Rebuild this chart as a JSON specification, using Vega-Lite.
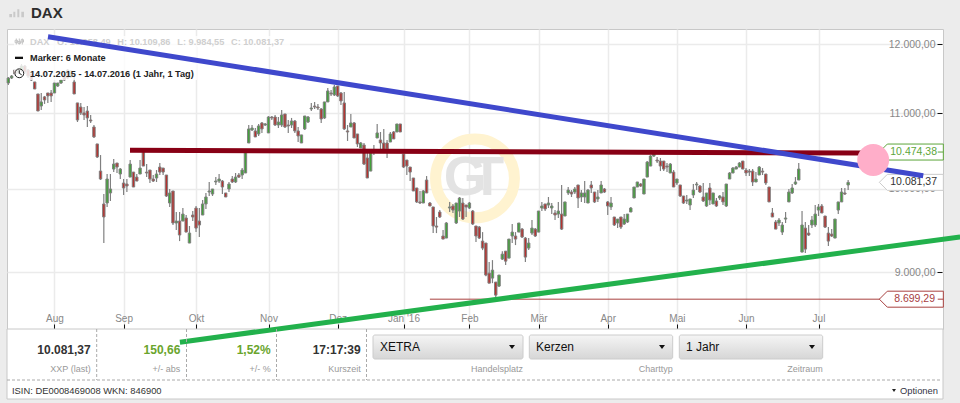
{
"$schema":"https://vega.github.io/schema/vega-lite/v6.json",
"width":936,"height":300,"autosize":"none",
"padding":{"left":7,"top":29,"right":17,"bottom":74},
"background":"#ececec",
"view":{"fill":"white","stroke":"#c8c8c8"},
"config":{"font":"Liberation Sans"},
"datasets":{"one":[{}],
"candles":[
{"t":0,"o":11428,"h":11514,"l":11400,"c":11500},{"t":1,"o":11500,"h":11543,"l":11485,"c":11529},{"t":2,"o":11617,"h":11632,"l":11529,"c":11559},{"t":3,"o":11588,"h":11646,"l":11559,"c":11617},
{"t":4,"o":11617,"h":11705,"l":11588,"c":11676},{"t":5,"o":11676,"h":11690,"l":11559,"c":11588},{"t":6,"o":11617,"h":11632,"l":11500,"c":11529},{"t":7,"o":11559,"h":11559,"l":11457,"c":11471},
{"t":8,"o":11443,"h":11443,"l":11342,"c":11342},{"t":9,"o":11271,"h":11271,"l":11031,"c":11031},{"t":10,"o":11101,"h":11285,"l":11045,"c":11158},{"t":11,"o":11229,"h":11243,"l":11130,"c":11186},
{"t":12,"o":11285,"h":11285,"l":11144,"c":11243},{"t":13,"o":11285,"h":11328,"l":11158,"c":11243},{"t":14,"o":11285,"h":11428,"l":11285,"c":11428},{"t":15,"o":11385,"h":11428,"l":11371,"c":11428},
{"t":16,"o":11428,"h":11485,"l":11414,"c":11471},{"t":17,"o":11559,"h":11588,"l":11457,"c":11471},{"t":18,"o":11617,"h":11632,"l":11485,"c":11500},{"t":19,"o":11529,"h":11617,"l":11500,"c":11588},
{"t":20,"o":11443,"h":11514,"l":11271,"c":11271},{"t":21,"o":11144,"h":11144,"l":10879,"c":10907},{"t":22,"o":11087,"h":11144,"l":10976,"c":11004},{"t":23,"o":11004,"h":11087,"l":10907,"c":10976},
{"t":24,"o":11031,"h":11101,"l":10811,"c":10935},{"t":25,"o":10907,"h":10976,"l":10866,"c":10893},{"t":26,"o":10811,"h":10838,"l":10662,"c":10676},{"t":27,"o":10582,"h":10582,"l":10396,"c":10409},
{"t":28,"o":10226,"h":10435,"l":10111,"c":10124},{"t":29,"o":9810,"h":9934,"l":9338,"c":9650},{"t":30,"o":9822,"h":10188,"l":9773,"c":10124},{"t":31,"o":9947,"h":10188,"l":9847,"c":9997},
{"t":32,"o":10252,"h":10382,"l":10213,"c":10317},{"t":33,"o":10330,"h":10330,"l":10201,"c":10278},{"t":34,"o":10188,"h":10265,"l":10124,"c":10252},{"t":35,"o":10073,"h":10124,"l":9922,"c":10010},
{"t":36,"o":10060,"h":10124,"l":9959,"c":10035},{"t":37,"o":10149,"h":10369,"l":10149,"c":10317},{"t":38,"o":10213,"h":10213,"l":10022,"c":10022},{"t":39,"o":10149,"h":10188,"l":10098,"c":10098},
{"t":40,"o":10188,"h":10369,"l":10188,"c":10265},{"t":41,"o":10501,"h":10501,"l":10291,"c":10291},{"t":42,"o":10213,"h":10317,"l":10149,"c":10201},{"t":43,"o":10239,"h":10239,"l":10073,"c":10124},
{"t":44,"o":10124,"h":10175,"l":10086,"c":10098},{"t":45,"o":10137,"h":10239,"l":10086,"c":10188},{"t":46,"o":10278,"h":10330,"l":10175,"c":10213},{"t":47,"o":10265,"h":10265,"l":10175,"c":10213},
{"t":48,"o":10175,"h":10175,"l":9897,"c":9909},{"t":49,"o":9822,"h":9997,"l":9773,"c":9947},{"t":50,"o":9972,"h":9972,"l":9553,"c":9577},{"t":51,"o":9577,"h":9711,"l":9492,"c":9601},
{"t":52,"o":9601,"h":9711,"l":9361,"c":9433},{"t":53,"o":9601,"h":9760,"l":9601,"c":9686},{"t":54,"o":9638,"h":9674,"l":9468,"c":9468},{"t":55,"o":9338,"h":9541,"l":9338,"c":9456},
{"t":56,"o":9674,"h":9723,"l":9601,"c":9650},{"t":57,"o":9760,"h":9785,"l":9468,"c":9516},{"t":58,"o":9601,"h":9760,"l":9409,"c":9553},{"t":59,"o":9674,"h":9859,"l":9674,"c":9810},
{"t":60,"o":9810,"h":9947,"l":9748,"c":9897},{"t":61,"o":9959,"h":10086,"l":9909,"c":9972},{"t":62,"o":9934,"h":9997,"l":9909,"c":9997},{"t":63,"o":10086,"h":10149,"l":10048,"c":10098},
{"t":64,"o":10098,"h":10188,"l":10073,"c":10124},{"t":65,"o":10098,"h":10111,"l":9934,"c":10022},{"t":66,"o":9947,"h":9947,"l":9897,"c":9897},{"t":67,"o":9997,"h":10086,"l":9959,"c":10060},
{"t":68,"o":10124,"h":10162,"l":10073,"c":10086},{"t":69,"o":10086,"h":10201,"l":10073,"c":10149},{"t":70,"o":10175,"h":10201,"l":10137,"c":10149},{"t":71,"o":10175,"h":10265,"l":10124,"c":10239},
{"t":72,"o":10201,"h":10501,"l":10201,"c":10475},{"t":73,"o":10595,"h":10838,"l":10595,"c":10784},{"t":74,"o":10770,"h":10838,"l":10757,"c":10797},{"t":75,"o":10757,"h":10797,"l":10676,"c":10676},
{"t":76,"o":10716,"h":10852,"l":10689,"c":10825},{"t":77,"o":10866,"h":10879,"l":10730,"c":10784},{"t":78,"o":10838,"h":10866,"l":10825,"c":10852},{"t":79,"o":10730,"h":10962,"l":10730,"c":10948},
{"t":80,"o":10948,"h":10962,"l":10907,"c":10935},{"t":81,"o":10948,"h":10976,"l":10825,"c":10838},{"t":82,"o":10838,"h":10948,"l":10797,"c":10879},{"t":83,"o":10838,"h":11045,"l":10811,"c":10976},
{"t":84,"o":10990,"h":10990,"l":10797,"c":10811},{"t":85,"o":10838,"h":10907,"l":10730,"c":10825},{"t":86,"o":10838,"h":10935,"l":10797,"c":10893},{"t":87,"o":10893,"h":10907,"l":10730,"c":10757},
{"t":88,"o":10757,"h":10811,"l":10608,"c":10689},{"t":89,"o":10595,"h":10703,"l":10595,"c":10703},{"t":90,"o":10784,"h":10962,"l":10770,"c":10962},{"t":91,"o":10879,"h":10962,"l":10866,"c":10948},
{"t":92,"o":11059,"h":11144,"l":11031,"c":11073},{"t":93,"o":11101,"h":11158,"l":11059,"c":11087},{"t":94,"o":11087,"h":11130,"l":11045,"c":11073},{"t":95,"o":11059,"h":11073,"l":10866,"c":10921},
{"t":96,"o":10935,"h":11158,"l":10921,"c":11158},{"t":97,"o":11158,"h":11357,"l":11158,"c":11314},{"t":98,"o":11285,"h":11328,"l":11243,"c":11271},{"t":99,"o":11257,"h":11400,"l":11243,"c":11371},
{"t":100,"o":11385,"h":11385,"l":11229,"c":11243},{"t":101,"o":11285,"h":11300,"l":11116,"c":11172},{"t":102,"o":11144,"h":11300,"l":10770,"c":10784},{"t":103,"o":10757,"h":10838,"l":10622,"c":10743},
{"t":104,"o":10811,"h":10990,"l":10811,"c":10866},{"t":105,"o":10866,"h":10879,"l":10662,"c":10662},{"t":106,"o":10716,"h":10716,"l":10541,"c":10582},{"t":107,"o":10528,"h":10608,"l":10528,"c":10595},
{"t":108,"o":10568,"h":10595,"l":10304,"c":10317},{"t":109,"o":10396,"h":10462,"l":10137,"c":10137},{"t":110,"o":10226,"h":10462,"l":10226,"c":10462},{"t":111,"o":10488,"h":10568,"l":10435,"c":10501},
{"t":112,"o":10662,"h":10852,"l":10662,"c":10730},{"t":113,"o":10635,"h":10743,"l":10501,"c":10595},{"t":114,"o":10595,"h":10784,"l":10501,"c":10501},{"t":115,"o":10595,"h":10635,"l":10396,"c":10515},
{"t":116,"o":10608,"h":10743,"l":10608,"c":10716},{"t":117,"o":10743,"h":10757,"l":10649,"c":10649},{"t":118,"o":10743,"h":10852,"l":10743,"c":10852},{"t":119,"o":10852,"h":10852,"l":10743,"c":10743},
{"t":120,"o":10448,"h":10448,"l":10265,"c":10278},{"t":121,"o":10369,"h":10369,"l":10175,"c":10291},{"t":122,"o":10278,"h":10278,"l":10098,"c":10213},{"t":123,"o":10137,"h":10137,"l":9972,"c":9972},
{"t":124,"o":10010,"h":10010,"l":9822,"c":9835},{"t":125,"o":9835,"h":9972,"l":9810,"c":9822},{"t":126,"o":9822,"h":9984,"l":9822,"c":9972},{"t":127,"o":10111,"h":10162,"l":9947,"c":9947},
{"t":128,"o":9822,"h":9835,"l":9785,"c":9785},{"t":129,"o":9773,"h":9773,"l":9456,"c":9541},{"t":130,"o":9541,"h":9650,"l":9456,"c":9528},{"t":131,"o":9711,"h":9735,"l":9638,"c":9650},
{"t":132,"o":9421,"h":9492,"l":9385,"c":9385},{"t":133,"o":9397,"h":9589,"l":9397,"c":9577},{"t":134,"o":9760,"h":9835,"l":9711,"c":9773},{"t":135,"o":9785,"h":9810,"l":9699,"c":9735},
{"t":136,"o":9577,"h":9822,"l":9565,"c":9822},{"t":137,"o":9723,"h":9897,"l":9650,"c":9884},{"t":138,"o":9822,"h":9884,"l":9613,"c":9625},{"t":139,"o":9797,"h":9797,"l":9650,"c":9773},
{"t":140,"o":9760,"h":9835,"l":9748,"c":9822},{"t":141,"o":9723,"h":9735,"l":9553,"c":9565},{"t":142,"o":9541,"h":9541,"l":9349,"c":9421},{"t":143,"o":9528,"h":9541,"l":9385,"c":9397},
{"t":144,"o":9361,"h":9468,"l":9255,"c":9279},{"t":145,"o":9338,"h":9338,"l":8956,"c":8968},{"t":146,"o":8990,"h":9116,"l":8877,"c":8877},{"t":147,"o":8934,"h":9139,"l":8877,"c":9024},
{"t":148,"o":8889,"h":8889,"l":8722,"c":8744},{"t":149,"o":8844,"h":8968,"l":8833,"c":8968},{"t":150,"o":9151,"h":9243,"l":9139,"c":9208},{"t":151,"o":9243,"h":9243,"l":9082,"c":9127},
{"t":152,"o":9162,"h":9385,"l":9162,"c":9385},{"t":153,"o":9421,"h":9565,"l":9338,"c":9468},{"t":154,"o":9421,"h":9468,"l":9314,"c":9385},{"t":155,"o":9468,"h":9577,"l":9468,"c":9577},
{"t":156,"o":9504,"h":9516,"l":9397,"c":9409},{"t":157,"o":9397,"h":9409,"l":9116,"c":9174},{"t":158,"o":9279,"h":9397,"l":9255,"c":9338},{"t":159,"o":9456,"h":9613,"l":9433,"c":9516},
{"t":160,"o":9504,"h":9516,"l":9409,"c":9421},{"t":161,"o":9468,"h":9723,"l":9468,"c":9723},{"t":162,"o":9760,"h":9835,"l":9723,"c":9785},{"t":163,"o":9810,"h":9810,"l":9723,"c":9748},
{"t":164,"o":9797,"h":9897,"l":9760,"c":9822},{"t":165,"o":9760,"h":9822,"l":9686,"c":9785},{"t":166,"o":9699,"h":9735,"l":9613,"c":9674},{"t":167,"o":9686,"h":9835,"l":9638,"c":9723},
{"t":168,"o":9686,"h":10048,"l":9492,"c":9504},{"t":169,"o":9662,"h":9835,"l":9662,"c":9835},{"t":170,"o":9947,"h":10022,"l":9922,"c":9984},{"t":171,"o":9959,"h":9984,"l":9897,"c":9934},
{"t":172,"o":9959,"h":10022,"l":9934,"c":9997},{"t":173,"o":10048,"h":10048,"l":9760,"c":9884},{"t":174,"o":9897,"h":9984,"l":9835,"c":9947},{"t":175,"o":9897,"h":10098,"l":9822,"c":9947},
{"t":176,"o":9822,"h":9997,"l":9822,"c":9984},{"t":177,"o":10048,"h":10098,"l":9947,"c":10010},{"t":178,"o":9959,"h":9959,"l":9822,"c":9835},{"t":179,"o":9872,"h":9984,"l":9835,"c":9897},
{"t":180,"o":9947,"h":10098,"l":9947,"c":10048},{"t":181,"o":9997,"h":10010,"l":9947,"c":9959},{"t":182,"o":9835,"h":9847,"l":9674,"c":9785},{"t":183,"o":9773,"h":9897,"l":9735,"c":9822},
{"t":184,"o":9650,"h":9650,"l":9541,"c":9553},{"t":185,"o":9577,"h":9625,"l":9516,"c":9625},{"t":186,"o":9650,"h":9650,"l":9504,"c":9528},{"t":187,"o":9565,"h":9686,"l":9553,"c":9625},
{"t":188,"o":9589,"h":9686,"l":9577,"c":9686},{"t":189,"o":9711,"h":9773,"l":9711,"c":9760},{"t":190,"o":9884,"h":10022,"l":9884,"c":10022},{"t":191,"o":10022,"h":10086,"l":10022,"c":10086},
{"t":192,"o":10060,"h":10073,"l":10022,"c":10035},{"t":193,"o":9934,"h":10124,"l":9934,"c":10124},{"t":194,"o":10149,"h":10356,"l":10149,"c":10343},{"t":195,"o":10291,"h":10435,"l":10291,"c":10422},
{"t":196,"o":10422,"h":10462,"l":10409,"c":10448},{"t":197,"o":10369,"h":10409,"l":10330,"c":10356},{"t":198,"o":10356,"h":10396,"l":10226,"c":10291},{"t":199,"o":10356,"h":10356,"l":10226,"c":10252},
{"t":200,"o":10291,"h":10330,"l":10213,"c":10278},{"t":201,"o":10201,"h":10330,"l":10201,"c":10317},{"t":202,"o":10213,"h":10239,"l":10022,"c":10022},{"t":203,"o":10073,"h":10124,"l":10048,"c":10124},
{"t":204,"o":10048,"h":10048,"l":9897,"c":9909},{"t":205,"o":9909,"h":9909,"l":9810,"c":9822},{"t":206,"o":9847,"h":9922,"l":9810,"c":9859},{"t":207,"o":9797,"h":9872,"l":9735,"c":9872},
{"t":208,"o":9922,"h":10060,"l":9884,"c":9984},{"t":209,"o":10048,"h":10086,"l":9984,"c":10060},{"t":210,"o":10035,"h":10048,"l":9947,"c":9959},{"t":211,"o":9897,"h":10073,"l":9835,"c":9847},
{"t":212,"o":9785,"h":9947,"l":9773,"c":9947},{"t":213,"o":10010,"h":10073,"l":9797,"c":9859},{"t":214,"o":9810,"h":9947,"l":9810,"c":9947},{"t":215,"o":9847,"h":9884,"l":9773,"c":9785},
{"t":216,"o":9884,"h":9922,"l":9859,"c":9909},{"t":217,"o":9897,"h":9959,"l":9797,"c":9835},{"t":218,"o":9785,"h":10060,"l":9773,"c":10060},{"t":219,"o":10124,"h":10213,"l":10124,"c":10201},
{"t":220,"o":10201,"h":10278,"l":10201,"c":10265},{"t":221,"o":10252,"h":10291,"l":10252,"c":10278},{"t":222,"o":10278,"h":10343,"l":10278,"c":10330},{"t":223,"o":10356,"h":10356,"l":10252,"c":10252},
{"t":224,"o":10239,"h":10265,"l":10162,"c":10201},{"t":225,"o":10226,"h":10252,"l":10162,"c":10213},{"t":226,"o":10226,"h":10252,"l":10035,"c":10086},{"t":227,"o":10086,"h":10213,"l":10086,"c":10124},
{"t":228,"o":10175,"h":10291,"l":10175,"c":10278},{"t":229,"o":10226,"h":10265,"l":10175,"c":10213},{"t":230,"o":10188,"h":10188,"l":10048,"c":10073},{"t":231,"o":10022,"h":10022,"l":9835,"c":9835},
{"t":232,"o":9699,"h":9760,"l":9650,"c":9650},{"t":233,"o":9589,"h":9613,"l":9504,"c":9504},{"t":234,"o":9577,"h":9638,"l":9541,"c":9613},{"t":235,"o":9468,"h":9589,"l":9433,"c":9553},
{"t":236,"o":9625,"h":9711,"l":9577,"c":9638},{"t":237,"o":9835,"h":9997,"l":9835,"c":9959},{"t":238,"o":9947,"h":10060,"l":9934,"c":10010},{"t":239,"o":10060,"h":10149,"l":10048,"c":10086},
{"t":240,"o":10111,"h":10330,"l":10111,"c":10252},{"t":241,"o":9232,"h":9723,"l":9232,"c":9553},{"t":242,"o":9516,"h":9589,"l":9220,"c":9267},{"t":243,"o":9456,"h":9553,"l":9421,"c":9433},
{"t":244,"o":9553,"h":9662,"l":9516,"c":9613},{"t":245,"o":9553,"h":9797,"l":9528,"c":9686},{"t":246,"o":9735,"h":9810,"l":9662,"c":9773},{"t":247,"o":9785,"h":9810,"l":9699,"c":9699},
{"t":248,"o":9662,"h":9662,"l":9516,"c":9528},{"t":249,"o":9456,"h":9528,"l":9302,"c":9361},{"t":250,"o":9444,"h":9504,"l":9409,"c":9421},{"t":251,"o":9397,"h":9625,"l":9397,"c":9625},
{"t":252,"o":9735,"h":9835,"l":9686,"c":9835},{"t":253,"o":9835,"h":10010,"l":9835,"c":9959},{"t":254,"o":9947,"h":10010,"l":9922,"c":9934},{"t":255,"o":10048,"h":10111,"l":9984,"c":10081}
]},
"layer":[
{"data":{"name":"one"},"mark":{"type":"rect","x":0,"x2":936,"y":300,"y2":370,"fill":"white","stroke":"#c8c8c8"}},
{"data":{"name":"one"},"mark":{"type":"point","shape":"M-1.85,0.25H-1.17V1.08H-1.85Z M-0.85,-0.33H-0.35V1.08H-0.85Z M0.15,-0.93H0.65V1.08H0.15Z M1.15,-0.33H1.82V1.08H1.15Z","x":9.7,"y":-16,"size":64,"filled":true,"fill":"#c9c9c9","stroke":null,"opacity":1}},
{"data":{"name":"one"},"mark":{"type":"text","text":"DAX","x":24,"y":-16.5,"align":"left","baseline":"middle","fontSize":15,"fontWeight":"bold","fill":"#2d2d2d"}},
{"data":{"values":[{"t":141.7,"v":10132}]},"mark":{"type":"point","shape":"circle","size":6221,"filled":false,"stroke":"#fff3d0","strokeWidth":11,"opacity":1},
 "encoding":{
  "x":{"field":"t","type":"quantitative","title":null,"scale":{"domain":[-0.4,283.8],"nice":false,"zero":false,"padding":0},
   "axis":{"values":[14,35,57,79,100,120,140,161,182,203,224,246],"labelExpr":"{'14':'Aug','35':'Sep','57':'Okt','79':'Nov','100':'Dez','120':'Jan \\'16','140':'Feb','161':'Mär','182':'Apr','203':'Mai','224':'Jun','246':'Jul'}[datum.value]",
    "offset":-5,"domain":false,"grid":true,"gridColor":"#ebebeb","gridWidth":1.5,"tickColor":"#111","tickSize":5,"labelFontSize":10,"labelColor":"#888","labelPadding":-11,"labelBaseline":"middle","labelOverlap":false,"labelFlush":false}},
  "y":{"field":"v","type":"quantitative","title":null,"scale":{"type":"log","domain":[8378,12234],"nice":false,"zero":false},
   "axis":{"orient":"right","values":[9000,10000,11000,12000],"labelExpr":"replace(format(datum.value,',.0f'),',','.')+',00'",
    "offset":-6,"domain":false,"grid":true,"gridColor":"#ebebeb","gridWidth":1.5,"tickColor":"#111","tickSize":5,"labelFontSize":10.5,"labelColor":"#888","labelPadding":-7,"labelAlign":"right","labelOverlap":false,"labelFlush":false}}}},
{"data":{"values":[{"t":138.7,"v":10132,"mark":"G"},{"t":145.4,"v":10132,"mark":"T"}]},"mark":{"type":"text","fontWeight":"bold","fontSize":55,"fill":"#e3e3e3","baseline":"middle"},
 "encoding":{"x":{"field":"t","type":"quantitative","title":null},"y":{"field":"v","type":"quantitative","title":null},"text":{"field":"mark"}}},
{"data":{"name":"candles"},"mark":{"type":"rule","color":"#808080","strokeWidth":1.2},
 "encoding":{"x":{"field":"t","type":"quantitative","title":null},"y":{"field":"l","type":"quantitative","title":null},"y2":{"field":"h"}}},
{"data":{"name":"candles"},"mark":{"type":"bar","size":2.4,"stroke":"#808080","strokeWidth":1},
 "encoding":{"x":{"field":"t","type":"quantitative","title":null},"y":{"field":"o","type":"quantitative","title":null},"y2":{"field":"c"},
  "fill":{"condition":{"test":"datum.c >= datum.o","value":"#43a03a"},"value":"#b5322f"}}},
{"data":{"name":"one"},"mark":{"type":"rect","x":7,"x2":283,"y":7,"y2":18,"fill":"white","opacity":0.8}},
{"data":{"name":"one"},"mark":{"type":"rect","x":7,"x2":190,"y":18,"y2":51,"fill":"white","opacity":0.8}},
{"data":{"name":"one"},"mark":{"type":"point","shape":"M-1,-1V1 M-1,-0.4H-0.6V0.4H-1.4V-0.4Z M0,-1V1 M0,0H0.4V0.7H-0.4V0Z M1,-1V1 M1,-0.6H1.4V0.2H0.6V-0.6Z","x":12.3,"y":12.5,"size":36,"filled":false,"stroke":"#c4c4c4","strokeWidth":1,"opacity":1}},
{"data":{"name":"one"},"mark":{"type":"text","text":"DAX","x":23,"y":12.5,"align":"left","baseline":"middle","fontSize":9.2,"fontWeight":"bold","fill":"#cfcfcf"}},
{"data":{"name":"one"},"mark":{"type":"text","text":"O: 10.058,49","x":50,"y":12.5,"align":"left","baseline":"middle","fontSize":9.2,"fontWeight":"bold","fill":"#cfcfcf"}},
{"data":{"name":"one"},"mark":{"type":"text","text":"H: 10.109,86","x":110.3,"y":12.5,"align":"left","baseline":"middle","fontSize":9.2,"fontWeight":"bold","fill":"#cfcfcf"}},
{"data":{"name":"one"},"mark":{"type":"text","text":"L: 9.984,55","x":170.3,"y":12.5,"align":"left","baseline":"middle","fontSize":9.2,"fontWeight":"bold","fill":"#cfcfcf"}},
{"data":{"name":"one"},"mark":{"type":"text","text":"C: 10.081,37","x":224,"y":12.5,"align":"left","baseline":"middle","fontSize":9.2,"fontWeight":"bold","fill":"#cfcfcf"}},
{"data":{"name":"one"},"mark":{"type":"rect","x":8,"x2":16,"y":27.7,"y2":30,"fill":"#111"}},
{"data":{"name":"one"},"mark":{"type":"text","text":"Marker: 6 Monate","x":23,"y":28.7,"align":"left","baseline":"middle","fontSize":9.2,"fontWeight":"bold","fill":"#222"}},
{"data":{"name":"one"},"mark":{"type":"point","shape":"circle","x":12.3,"y":44.3,"size":78,"filled":false,"stroke":"#222","strokeWidth":1,"opacity":1}},
{"data":{"name":"one"},"mark":{"type":"point","shape":"M0,-1V0L0.8,0.5","x":12.3,"y":44.3,"size":36,"filled":false,"fill":"transparent","stroke":"#222","strokeWidth":1,"opacity":1}},
{"data":{"name":"one"},"mark":{"type":"text","text":"14.07.2015 - 14.07.2016 (1 Jahr, 1 Tag)","x":23,"y":44.7,"align":"left","baseline":"middle","fontSize":9.2,"fontWeight":"bold","fill":"#222"}},
{"data":{"values":[{"from":128,"to":264.7,"v":8699.29}]},"mark":{"type":"rule","color":"#a8403f","strokeWidth":1},
 "encoding":{"x":{"field":"from","type":"quantitative","title":null},"x2":{"field":"to"},"y":{"field":"v","type":"quantitative","title":null}}},
{"data":{"values":[{"t":266.9,"v":10474.38}]},"mark":{"type":"point","shape":"M-1,0L0,-1H7V1H0Z M6.3,0H7","size":256,"filled":false,"fill":"white","stroke":"#5da53a","strokeWidth":1,"opacity":1},
 "encoding":{"x":{"field":"t","type":"quantitative","title":null},"y":{"field":"v","type":"quantitative","title":null}}},
{"data":{"values":[{"t":266.9,"v":10081.37}]},"mark":{"type":"point","shape":"M-1,0L0,-1H7V1H0Z","size":256,"filled":false,"fill":"white","stroke":"#cccccc","strokeWidth":1,"opacity":1},
 "encoding":{"x":{"field":"t","type":"quantitative","title":null},"y":{"field":"v","type":"quantitative","title":null}}},
{"data":{"values":[{"t":266.9,"v":8699.29}]},"mark":{"type":"point","shape":"M-1,0L0,-1H7V1H0Z M6.3,0H7","size":256,"filled":false,"fill":"white","stroke":"#a8403f","strokeWidth":1,"opacity":1},
 "encoding":{"x":{"field":"t","type":"quantitative","title":null},"y":{"field":"v","type":"quantitative","title":null}}},
{"data":{"values":[{"v":10474.38,"label":"10.474,38"}]},"mark":{"type":"text","x":930,"align":"right","baseline":"middle","fontSize":10.5,"fill":"#5da53a"},
 "encoding":{"y":{"field":"v","type":"quantitative","title":null},"text":{"field":"label"}}},
{"data":{"values":[{"v":10081.37,"label":"10.081,37"}]},"mark":{"type":"text","x":930,"align":"right","baseline":"middle","fontSize":10.5,"fill":"#333"},
 "encoding":{"y":{"field":"v","type":"quantitative","title":null},"text":{"field":"label"}}},
{"data":{"values":[{"v":8699.29,"label":"8.699,29"}]},"mark":{"type":"text","x":928,"align":"right","baseline":"middle","fontSize":10.5,"fill":"#a8403f"},
 "encoding":{"y":{"field":"v","type":"quantitative","title":null},"text":{"field":"label"}}},
{"data":{"values":[{"t":36.95,"v":10497},{"t":259.2,"v":10461}]},"mark":{"type":"line","color":"#880015","strokeWidth":5},
 "encoding":{"x":{"field":"t","type":"quantitative","title":null},"y":{"field":"v","type":"quantitative","title":null}}},
{"data":{"values":[{"t":12.05,"v":12116},{"t":277.8,"v":10166}]},"mark":{"type":"line","color":"#3f48cc","strokeWidth":5},
 "encoding":{"x":{"field":"t","type":"quantitative","title":null},"y":{"field":"v","type":"quantitative","title":null}}},
{"data":{"values":[{"t":52.1,"v":8240},{"t":289,"v":9411}]},"mark":{"type":"line","color":"#22b14c","strokeWidth":5},
 "encoding":{"x":{"field":"t","type":"quantitative","title":null},"y":{"field":"v","type":"quantitative","title":null}}},
{"data":{"values":[{"t":262.6,"v":10370}]},"mark":{"type":"point","shape":"circle","size":1018,"filled":true,"fill":"#ffaec9","stroke":null,"opacity":1},
 "encoding":{"x":{"field":"t","type":"quantitative","title":null},"y":{"field":"v","type":"quantitative","title":null}}},
{"data":{"name":"one"},"mark":{"type":"rule","color":"#aaaaaa","strokeDash":[3,2],"strokeWidth":1},"encoding":{"x":{"value":0},"x2":{"value":934},"y":{"value":351}}},
{"data":{"name":"one"},"mark":{"type":"rule","color":"#aaaaaa","strokeDash":[3,2],"strokeWidth":1},"encoding":{"x":{"value":89.7},"y":{"value":300},"y2":{"value":351}}},
{"data":{"name":"one"},"mark":{"type":"rule","color":"#aaaaaa","strokeDash":[3,2],"strokeWidth":1},"encoding":{"x":{"value":179.5},"y":{"value":300},"y2":{"value":351}}},
{"data":{"name":"one"},"mark":{"type":"rule","color":"#aaaaaa","strokeDash":[3,2],"strokeWidth":1},"encoding":{"x":{"value":269.5},"y":{"value":300},"y2":{"value":351}}},
{"data":{"name":"one"},"mark":{"type":"rule","color":"#aaaaaa","strokeDash":[3,2],"strokeWidth":1},"encoding":{"x":{"value":359.5},"y":{"value":300},"y2":{"value":351}}},
{"data":{"name":"one"},"mark":{"type":"text","text":"10.081,37","x":83.7,"y":321,"align":"right","baseline":"middle","fontSize":12,"fontWeight":"bold","fill":"#333"}},
{"data":{"name":"one"},"mark":{"type":"text","text":"XXP (last)","x":83.7,"y":340,"align":"right","baseline":"middle","fontSize":9,"fill":"#999"}},
{"data":{"name":"one"},"mark":{"type":"text","text":"150,66","x":173.3,"y":321,"align":"right","baseline":"middle","fontSize":12,"fontWeight":"bold","fill":"#6aa52d"}},
{"data":{"name":"one"},"mark":{"type":"text","text":"+/- abs","x":173.3,"y":340,"align":"right","baseline":"middle","fontSize":9,"fill":"#999"}},
{"data":{"name":"one"},"mark":{"type":"text","text":"1,52%","x":263.7,"y":321,"align":"right","baseline":"middle","fontSize":12,"fontWeight":"bold","fill":"#6aa52d"}},
{"data":{"name":"one"},"mark":{"type":"text","text":"+/- %","x":263.7,"y":340,"align":"right","baseline":"middle","fontSize":9,"fill":"#999"}},
{"data":{"name":"one"},"mark":{"type":"text","text":"17:17:39","x":353.7,"y":321,"align":"right","baseline":"middle","fontSize":12,"fontWeight":"bold","fill":"#333"}},
{"data":{"name":"one"},"mark":{"type":"text","text":"Kurszeit","x":353.7,"y":340,"align":"right","baseline":"middle","fontSize":9,"fill":"#999"}},
{"data":{"name":"one"},"mark":{"type":"rect","x":366,"x2":516,"y":306,"y2":330,"cornerRadius":2,"stroke":"#cccccc","fill":{"gradient":"linear","x1":0,"y1":0,"x2":0,"y2":1,"stops":[{"offset":0,"color":"#f5f5f5"},{"offset":1,"color":"#d6d6d6"}]}}},
{"data":{"name":"one"},"mark":{"type":"rect","x":522.3,"x2":665.7,"y":306,"y2":330,"cornerRadius":2,"stroke":"#cccccc","fill":{"gradient":"linear","x1":0,"y1":0,"x2":0,"y2":1,"stops":[{"offset":0,"color":"#f5f5f5"},{"offset":1,"color":"#d6d6d6"}]}}},
{"data":{"name":"one"},"mark":{"type":"rect","x":672.3,"x2":815.7,"y":306,"y2":330,"cornerRadius":2,"stroke":"#cccccc","fill":{"gradient":"linear","x1":0,"y1":0,"x2":0,"y2":1,"stops":[{"offset":0,"color":"#f5f5f5"},{"offset":1,"color":"#d6d6d6"}]}}},
{"data":{"name":"one"},"mark":{"type":"text","text":"XETRA","x":373,"y":318,"align":"left","baseline":"middle","fontSize":12,"fill":"#111"}},
{"data":{"name":"one"},"mark":{"type":"text","text":"Kerzen","x":529,"y":318,"align":"left","baseline":"middle","fontSize":12,"fill":"#111"}},
{"data":{"name":"one"},"mark":{"type":"text","text":"1 Jahr","x":679,"y":318,"align":"left","baseline":"middle","fontSize":12,"fill":"#111"}},
{"data":{"name":"one"},"mark":{"type":"point","shape":"M-1,-0.7H1L0,0.7Z","x":505,"y":318,"size":36,"filled":true,"fill":"#111","stroke":null,"opacity":1}},
{"data":{"name":"one"},"mark":{"type":"point","shape":"M-1,-0.7H1L0,0.7Z","x":655,"y":318,"size":36,"filled":true,"fill":"#111","stroke":null,"opacity":1}},
{"data":{"name":"one"},"mark":{"type":"point","shape":"M-1,-0.7H1L0,0.7Z","x":805,"y":318,"size":36,"filled":true,"fill":"#111","stroke":null,"opacity":1}},
{"data":{"name":"one"},"mark":{"type":"text","text":"Handelsplatz","x":516,"y":340,"align":"right","baseline":"middle","fontSize":9,"fill":"#999"}},
{"data":{"name":"one"},"mark":{"type":"text","text":"Charttyp","x":665.7,"y":340,"align":"right","baseline":"middle","fontSize":9,"fill":"#999"}},
{"data":{"name":"one"},"mark":{"type":"text","text":"Zeitraum","x":815.7,"y":340,"align":"right","baseline":"middle","fontSize":9,"fill":"#999"}},
{"data":{"name":"one"},"mark":{"type":"text","text":"ISIN: DE0008469008 WKN: 846900","x":5,"y":361.5,"align":"left","baseline":"middle","fontSize":9.4,"fill":"#333"}},
{"data":{"name":"one"},"mark":{"type":"text","text":"Optionen","x":931,"y":361.5,"align":"right","baseline":"middle","fontSize":9.4,"fill":"#334"}},
{"data":{"name":"one"},"mark":{"type":"point","shape":"M-1,-0.7H1L0,0.7Z","x":887,"y":361.5,"size":16,"filled":true,"fill":"#222","stroke":null,"opacity":1}}
]
}
